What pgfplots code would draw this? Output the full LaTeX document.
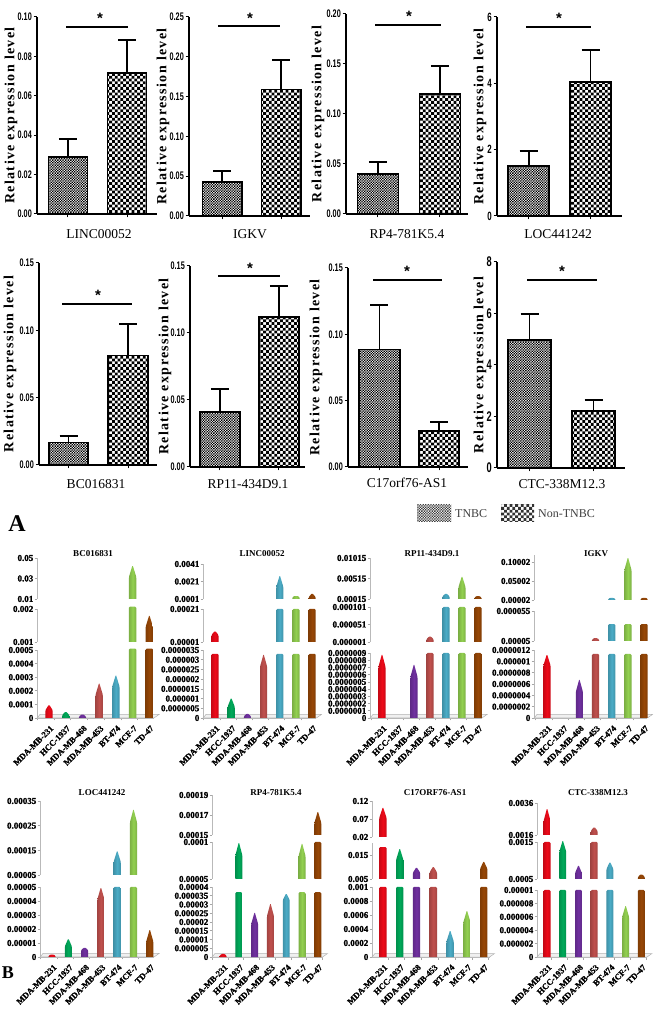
\documentclass[border=0pt]{standalone}
\usepackage{fontspec}
\setmainfont{Liberation Serif}
\newfontfamily\ticksf[FakeStretch=0.66]{Liberation Sans}
\newfontfamily\starf{Liberation Sans}
\newfontfamily\heavy[BoldFeatures={FakeBold=1.2}]{Liberation Serif}
\usepackage{pgfplots}
\pgfplotsset{compat=1.18}
\usetikzlibrary{patterns}

\definecolor{c0}{RGB}{237,10,25}
\definecolor{c1}{RGB}{0,170,90}
\definecolor{c2}{RGB}{112,48,160}
\definecolor{c3}{RGB}{192,80,77}
\definecolor{c4}{RGB}{75,172,198}
\definecolor{c5}{RGB}{146,208,80}
\definecolor{c6}{RGB}{151,71,6}

\pgfdeclarepatternformonly{tnbcfill}{\pgfqpoint{-0.05pt}{-0.05pt}}{\pgfqpoint{2.65pt}{2.65pt}}{\pgfqpoint{2.6pt}{2.6pt}}{
  \pgfpathrectangle{\pgfqpoint{0pt}{0pt}}{\pgfqpoint{1.3pt}{1.3pt}}
  \pgfpathrectangle{\pgfqpoint{1.3pt}{1.3pt}}{\pgfqpoint{1.3pt}{1.3pt}}
  \pgfusepath{fill}}
\pgfdeclarepatternformonly{nontnbcfill}{\pgfqpoint{-0.05pt}{-0.05pt}}{\pgfqpoint{5.65pt}{5.65pt}}{\pgfqpoint{5.6pt}{5.6pt}}{
  \pgfpathrectangle{\pgfqpoint{0pt}{0pt}}{\pgfqpoint{2.8pt}{2.8pt}}
  \pgfpathrectangle{\pgfqpoint{2.8pt}{2.8pt}}{\pgfqpoint{2.8pt}{2.8pt}}
  \pgfusepath{fill}}

\pgfplotsset{
  toppanel/.style={
    scale only axis, clip=false, ybar, bar shift=0pt,
    scaled y ticks=false,
    axis x line=bottom, axis y line=left,
    axis line style={-,line width=1.3pt},
    tick style={black,line width=1pt},
    tick align=outside, major tick length=3.5pt,
    xtick={0,1}, xticklabel=\empty, ymin=0,
    yticklabel style={font=\ticksf\bfseries\fontsize{11}{11}\selectfont,inner sep=1.5pt},
    ylabel={\addfontfeature{LetterSpace=10}Relative expression level},
    y label style={at={(axis description cs:0,0.5)},anchor=center,
      font=\bfseries\fontsize{14}{15}\selectfont},
  },
  ylx/.style={y label style={yshift=#1pt}},
  tn/.style={pattern=tnbcfill,draw=black,line width=1.7pt,
    error bars/y dir=plus,error bars/y explicit,
    error bars/error bar style={line width=1.7pt,black},
    error bars/error mark options={rotate=90,mark size=9pt,line width=1.7pt,black}},
  nt/.style={pattern=nontnbcfill,draw=black,line width=1.7pt,
    error bars/y dir=plus,error bars/y explicit,
    error bars/error bar style={line width=1.7pt,black},
    error bars/error mark options={rotate=90,mark size=9pt,line width=1.7pt,black}},
  seg/.style={
    scale only axis, clip=false, scaled y ticks=false,
    axis x line=bottom, axis y line=left,
    xtick=\empty, x axis line style={draw=none},
    y axis line style={-,gray!55,line width=0.8pt},
    ytick style={gray!70,line width=0.6pt},
    tick align=outside, major tick length=2.5pt,
    yticklabel style={font=\heavy\bfseries\fontsize{9}{9}\selectfont,inner sep=1pt},
  },
  low/.style={
    x axis line style={-,draw=gray!55,line width=0.8pt},
    xtick={-0.2,0.8,1.8,2.8,3.8,4.8,5.8},
    minor xtick={-0.7,0.3,1.3,2.3,3.3,4.3,5.3,6.3},
    major x tick style={draw=none},
    minor x tick style={gray!70,line width=0.6pt},
    minor tick length=2.5pt,
    xticklabels={MDA-MB-231,HCC-1937,MDA-MB-468,MDA-MB-453,BT-474,MCF-7,TD-47},
    x tick label style={rotate=45,anchor=north east,inner sep=1pt,yshift=-5pt,xshift=1pt,
      font=\heavy\bfseries\fontsize{8.5}{8.5}\selectfont},
  },
  bullet/.style={draw=none,mark=none,rounded corners=1.1pt,
    left color=c#1!85!black,right color=c#1!85!black,middle color=c#1},
}

% one bullet bar: index, bottom, shoulder, tip (values of that axis segment)
\newcommand{\hw}{0.22}
\newcommand{\bul}[4]{%
  \pgfmathsetmacro\xa{#1-\hw}\pgfmathsetmacro\xb{#1+\hw}%
  \edef\tmp{\noexpand\addplot[bullet=#1] coordinates {(\xa,#2)(\xa,#3)(#1,#4)(\xb,#3)(\xb,#2)};}\tmp}
% one segment of a broken axis: left px, bottom py, top py, options, bars
\newcommand{\brk}[5]{%
  \pgfmathsetmacro\hh{#2-#3}%
  \begin{axis}[seg,pnl,at={(#1pt,{1011pt-#2pt})},height=\hh pt,#4]
  #5
  \end{axis}}
\newcommand{\floor}{%
  \draw[gray!60,fill=gray!12,line width=0.5pt] (rel axis cs:0,0) -- (rel axis cs:1,0)
    -- ([shift={(5pt,3.5pt)}]rel axis cs:1,0) -- ([shift={(3pt,3.5pt)}]rel axis cs:0,0) -- cycle;}
\newcommand{\sigp}[5]{%
  \draw[line width=2pt,black] (#1,{1011-#3}) -- (#2,{1011-#3});
  \node[font=\starf\bfseries\fontsize{15}{15}\selectfont,inner sep=0pt] at (#4,{1011-#5-3}) {*};}
\newcommand{\lab}[3]{\node[font=\fontsize{13.5}{14}\selectfont,inner sep=0pt] at (#1,{1011-#2}) {#3};}
\newcommand{\ttl}[3]{\node[font=\bfseries\fontsize{9}{10}\selectfont,inner sep=0pt] at (#1,{1011-#2}) {#3};}

\begin{document}
\begin{tikzpicture}[x=1pt,y=1pt]
\path[use as bounding box] (0,0) rectangle (658,1011);

% ---- upper part, TNBC vs Non-TNBC ----
\begin{axis}[toppanel,at={(37pt,{1011pt-214pt})},width=120pt,height=197pt,xmin=-0.525,xmax=1.508,bar width=39pt,ymax=0.10,ylx=26,
  ytick={0,0.02,0.04,0.06,0.08,0.10},yticklabels={0.00,0.02,0.04,0.06,0.08,0.10}]
\addplot[tn] coordinates {(0,0.029) +- (0,0.0092)};
\addplot[nt] coordinates {(1,0.0714) +- (0,0.0168)};
\end{axis}
\begin{axis}[toppanel,at={(189pt,{1011pt-216pt})},width=121pt,height=199pt,xmin=-0.563,xmax=1.487,bar width=39.5pt,ymax=0.25,ylx=26,
  ytick={0,0.05,0.10,0.15,0.20,0.25},yticklabels={0.00,0.05,0.10,0.15,0.20,0.25}]
\addplot[tn] coordinates {(0,0.043) +- (0,0.0135)};
\addplot[nt] coordinates {(1,0.159) +- (0,0.037)};
\end{axis}
\begin{axis}[toppanel,at={(346pt,{1011pt-214pt})},width=122pt,height=200pt,xmin=-0.516,xmax=1.452,bar width=41pt,ymax=0.20,ylx=28,
  ytick={0,0.05,0.10,0.15,0.20},yticklabels={0.00,0.05,0.10,0.15,0.20}]
\addplot[tn] coordinates {(0,0.04) +- (0,0.012)};
\addplot[nt] coordinates {(1,0.12) +- (0,0.028)};
\end{axis}
\begin{axis}[toppanel,at={(497pt,{1011pt-216pt})},width=125pt,height=199pt,xmin=-0.512,xmax=1.508,bar width=41pt,ymax=6,ylx=17,
  ytick={0,2,4,6},yticklabels={0,2,4,6},yticklabel style={font=\ticksf\bfseries\fontsize{12}{12}\selectfont}]
\addplot[tn] coordinates {(0,1.5) +- (0,0.46)};
\addplot[nt] coordinates {(1,4.03) +- (0,0.97)};
\end{axis}
\begin{axis}[toppanel,at={(39pt,{1011pt-465pt})},width=118pt,height=202pt,xmin=-0.496,xmax=1.487,bar width=39.5pt,ymax=0.15,ylx=29,
  ytick={0,0.05,0.10,0.15},yticklabels={0.00,0.05,0.10,0.15}]
\addplot[tn] coordinates {(0,0.0168) +- (0,0.0047)};
\addplot[nt] coordinates {(1,0.0813) +- (0,0.0232)};
\end{axis}
\begin{axis}[toppanel,at={(190pt,{1011pt-467pt})},width=115pt,height=201pt,xmin=-0.508,xmax=1.441,bar width=40pt,ymax=0.15,ylx=25,
  ytick={0,0.05,0.10,0.15},yticklabels={0.00,0.05,0.10,0.15}]
\addplot[tn] coordinates {(0,0.041) +- (0,0.017)};
\addplot[nt] coordinates {(1,0.112) +- (0,0.023)};
\end{axis}
\begin{axis}[toppanel,at={(348pt,{1011pt-467pt})},width=120pt,height=199pt,xmin=-0.529,xmax=1.487,bar width=40.5pt,ymax=0.15,ylx=32,
  ytick={0,0.05,0.10,0.15},yticklabels={0.00,0.05,0.10,0.15}]
\addplot[tn] coordinates {(0,0.0885) +- (0,0.0335)};
\addplot[nt] coordinates {(1,0.027) +- (0,0.007)};
\end{axis}
\begin{axis}[toppanel,at={(497pt,{1011pt-468pt})},width=128pt,height=206pt,xmin=-0.508,xmax=1.492,bar width=43pt,ymax=8,ylx=17,
  ytick={0,2,4,6,8},yticklabels={0,2,4,6,8},yticklabel style={font=\ticksf\bfseries\fontsize{14}{14}\selectfont}]
\addplot[tn] coordinates {(0,4.98) +- (0,0.99)};
\addplot[nt] coordinates {(1,2.22) +- (0,0.43)};
\end{axis}

\sigp{66}{128}{27}{100}{15}\lab{99}{234}{LINC00052}
\sigp{218}{280}{26}{250}{15}\lab{250}{234}{IGKV}
\sigp{375}{441}{25}{409}{13}\lab{407}{234}{RP4-781K5.4}
\sigp{526}{591}{27}{559}{15}\lab{558}{234}{LOC441242}
\sigp{62}{132}{304}{98}{292}\lab{96}{484}{BC016831}
\sigp{218}{280}{276}{250}{265}\lab{248}{484}{RP11-434D9.1}
\sigp{373}{442}{280}{407}{268}\lab{407}{483}{C17orf76-AS1}
\sigp{527}{597}{280}{562}{268}\lab{562}{484}{CTC-338M12.3}

% legend and panel letters
\fill[pattern=tnbcfill,pattern color=black!75] (417,{1011-522}) rectangle (451,{1011-505});
\node[anchor=west,inner sep=0pt,text=black!75,font=\fontsize{12}{12}\selectfont] at (455,{1011-514}) {TNBC};
\fill[pattern=nontnbcfill,pattern color=black!80] (501,{1011-522}) rectangle (534,{1011-505});
\node[anchor=west,inner sep=0pt,text=black!75,font=\fontsize{12}{12}\selectfont] at (538,{1011-514}) {Non-TNBC};
\node[font=\bfseries\fontsize{24}{24}\selectfont,inner sep=0pt] at (17,{1011-524}) {A};
\node[font=\bfseries\fontsize{18}{18}\selectfont,inner sep=0pt] at (8,{1011-973}) {B};

% ---- BC016831 ----
\ttl{93}{554}{BC016831}
\pgfplotsset{pnl/.style={width=117pt,xmin=-0.72,xmax=6.28}}
\brk{37}{599}{558}{ymin=0.01,ymax=0.05,ytick={0.01,0.03,0.05},yticklabels={0.01,0.03,0.05}}
  {\bul{5}{0.01}{0.0315}{0.0432}}
\brk{37}{642}{609}{ymin=0.001,ymax=0.002,ytick={0.001,0.002},yticklabels={0.001,0.002}}
  {\bul{5}{0.001}{0.00207}{0.00207}\bul{6}{0.001}{0.00146}{0.00182}}
\brk{37}{718}{650}{low,ymin=0,ymax=0.0005,ytick={0,0.0001,0.0002,0.0003,0.0004,0.0005},yticklabels={0,0.0001,0.0002,0.0003,0.0004,0.0005}}
  {\floor
   \bul{0}{0}{0.000057}{0.0001}\bul{1}{0}{0.00002}{0.00005}\bul{2}{0}{0.00001}{0.00003}
   \bul{3}{0}{0.00017}{0.00026}\bul{4}{0}{0.00023}{0.00032}
   \bul{5}{0}{0.00051}{0.00051}\bul{6}{0}{0.00051}{0.00051}}

% ---- LINC00052 ----
\ttl{262}{554}{LINC00052}
\pgfplotsset{pnl/.style={width=113.4pt,xmin=-0.74,xmax=6.26}}
\brk{203}{599}{564}{ymin=0.0001,ymax=0.0041,ytick={0.0001,0.0021,0.0041},yticklabels={0.0001,0.0021,0.0041}}
  {\bul{4}{0.0001}{0.00147}{0.00284}\bul{5}{0.0001}{0.00035}{0.00048}\bul{6}{0.0001}{0.0003}{0.00078}}
\brk{203}{642}{609}{ymin=0.00001,ymax=0.00021,ytick={0.00001,0.00021},yticklabels={0.00001,0.00021}}
  {\bul{0}{0.00001}{0.000052}{0.0000785}\bul{4}{0.00001}{0.00021}{0.00021}\bul{5}{0.00001}{0.00021}{0.00021}\bul{6}{0.00001}{0.00021}{0.00021}}
\brk{203}{718}{650}{low,ymin=0,ymax=0.0000035,ytick={0,0.0000005,0.000001,0.0000015,0.000002,0.0000025,0.000003,0.0000035},yticklabels={0,0.0000005,0.000001,0.0000015,0.000002,0.0000025,0.000003,0.0000035}}
  {\floor
   \bul{0}{0}{0.0000033}{0.0000033}\bul{1}{0}{0.00000058}{0.00000105}\bul{2}{0}{0.0000001}{0.00000024}
   \bul{3}{0}{0.00000264}{0.0000033}\bul{4}{0}{0.0000033}{0.0000033}\bul{5}{0}{0.0000033}{0.0000033}\bul{6}{0}{0.0000033}{0.0000033}}

% ---- RP11-434D9.1 ----
\ttl{432}{554}{RP11-434D9.1}
\pgfplotsset{pnl/.style={width=112pt,xmin=-0.75,xmax=6.25}}
\brk{370}{599}{558}{ymin=0.00015,ymax=0.01015,ytick={0.00015,0.00515,0.01015},yticklabels={0.00015,0.00515,0.01015}}
  {\bul{4}{0.00015}{0.00085}{0.00154}\bul{5}{0.00015}{0.00308}{0.0058}\bul{6}{0.00015}{0.0006}{0.00095}}
\brk{370}{642}{607}{ymin=0.000001,ymax=0.000101,ytick={0.000001,0.000051,0.000101},yticklabels={0.000001,0.000051,0.000101}}
  {\bul{3}{0.000001}{0.00001}{0.000018}\bul{4}{0.000001}{0.000101}{0.000101}\bul{5}{0.000001}{0.000101}{0.000101}\bul{6}{0.000001}{0.000101}{0.000101}}
\brk{370}{718}{653}{low,ymin=0,ymax=0.0000009,ytick={0,0.0000001,0.0000002,0.0000003,0.0000004,0.0000005,0.0000006,0.0000007,0.0000008,0.0000009},yticklabels={0,0.0000001,0.0000002,0.0000003,0.0000004,0.0000005,0.0000006,0.0000007,0.0000008,0.0000009}}
  {\floor
   \bul{0}{0}{0.00000071}{0.00000089}\bul{2}{0}{0.00000057}{0.00000075}
   \bul{3}{0}{0.0000009}{0.0000009}\bul{4}{0}{0.0000009}{0.0000009}\bul{5}{0}{0.0000009}{0.0000009}\bul{6}{0}{0.0000009}{0.0000009}}

% ---- IGKV ----
\ttl{596}{554}{IGKV}
\pgfplotsset{pnl/.style={width=113.4pt,xmin=-0.8,xmax=6.2}}
\brk{534}{600}{555}{ymin=0.00002,ymax=0.1184,ytick={0.00002,0.05002,0.10002},yticklabels={0.00002,0.05002,0.10002}}
  {\bul{4}{0.00002}{0.004}{0.0061}\bul{5}{0.00002}{0.079}{0.113}\bul{6}{0.00002}{0.004}{0.0061}}
\brk{534}{641}{611}{ymin=0.000005,ymax=0.000055,ytick={0.000005,0.000055},yticklabels={0.00005,0.000055}}
  {\bul{3}{0.000005}{0.000008}{0.0000105}\bul{4}{0.000005}{0.0000333}{0.0000333}\bul{5}{0.000005}{0.0000333}{0.0000333}\bul{6}{0.000005}{0.0000333}{0.0000333}}
\brk{534}{718}{650}{low,ymin=0,ymax=0.0000012,ytick={0,0.0000002,0.0000004,0.0000006,0.0000008,0.000001,0.0000012},yticklabels={0,0.0000002,0.0000004,0.0000006,0.0000008,0.000001,0.0000012}}
  {\floor
   \bul{0}{0}{0.00000093}{0.00000113}\bul{2}{0}{0.00000046}{0.00000069}
   \bul{3}{0}{0.00000113}{0.00000113}\bul{4}{0}{0.00000113}{0.00000113}\bul{5}{0}{0.00000113}{0.00000113}\bul{6}{0}{0.00000113}{0.00000113}}

% ---- LOC441242 ----
\ttl{102}{793}{LOC441242}
\pgfplotsset{pnl/.style={width=114pt,xmin=-0.74,xmax=6.26}}
\brk{40}{875}{801}{ymin=0.00005,ymax=0.00035,ytick={0.00005,0.00015,0.00025,0.00035},yticklabels={0.00005,0.00015,0.00025,0.00035}}
  {\bul{4}{0.00005}{0.000103}{0.00015}\bul{5}{0.00005}{0.000263}{0.000318}}
\brk{40}{957}{887}{low,ymin=0,ymax=0.00005,ytick={0,0.00001,0.00002,0.00003,0.00004,0.00005},yticklabels={0,0.00001,0.00002,0.00003,0.00004,0.00005}}
  {\floor
   \bul{0}{0}{0.000001}{0.000002}\bul{1}{0}{0.0000074}{0.0000134}\bul{2}{0}{0.000005}{0.000007}
   \bul{3}{0}{0.000041}{0.00005}\bul{4}{0}{0.00005}{0.00005}\bul{5}{0}{0.00005}{0.00005}\bul{6}{0}{0.0000109}{0.00002}}

% ---- RP4-781K5.4 ----
\ttl{276}{793}{RP4-781K5.4}
\pgfplotsset{pnl/.style={width=110.6pt,xmin=-0.7,xmax=6.3}}
\brk{212}{835}{795}{ymin=0.00015,ymax=0.00019,ytick={0.00015,0.00017,0.00019},yticklabels={0.00015,0.00017,0.00019}}
  {\bul{6}{0.00015}{0.000162}{0.000174}}
\brk{212}{879}{842}{ymin=0.00005,ymax=0.0001,ytick={0.00005,0.0001},yticklabels={0.00005,0.0001}}
  {\bul{1}{0.00005}{0.000082}{0.0001}\bul{5}{0.00005}{0.000081}{0.000099}\bul{6}{0.00005}{0.0001}{0.0001}}
\brk{212}{957}{887}{low,ymin=0,ymax=0.00004,ytick={0,0.000005,0.00001,0.000015,0.00002,0.000025,0.00003,0.000035,0.00004},yticklabels={0,0.000005,0.00001,0.000015,0.00002,0.000025,0.00003,0.000035,0.00004}}
  {\floor
   \bul{0}{0}{0.000001}{0.000002}\bul{1}{0}{0.000037}{0.000037}\bul{2}{0}{0.0000188}{0.0000258}
   \bul{3}{0}{0.0000234}{0.0000308}\bul{4}{0}{0.0000325}{0.0000365}\bul{5}{0}{0.000037}{0.000037}\bul{6}{0}{0.000037}{0.000037}}

% ---- C17ORF76-AS1 ----
\ttl{435}{793}{C17ORF76-AS1}
\pgfplotsset{pnl/.style={width=117.6pt,xmin=-0.65,xmax=6.35}}
\brk{372}{837}{801}{ymin=0.02,ymax=0.12,ytick={0.02,0.07,0.12},yticklabels={0.02,0.07,0.12}}
  {\bul{0}{0.02}{0.0728}{0.104}}
\brk{372}{879}{843}{ymin=0.005,ymax=0.02,ytick={0.005,0.015},yticklabels={0.005,0.015}}
  {\bul{0}{0.005}{0.0183}{0.0183}\bul{1}{0.005}{0.0129}{0.0179}\bul{2}{0.005}{0.0076}{0.01}\bul{3}{0.005}{0.0078}{0.0103}\bul{6}{0.005}{0.0092}{0.0125}}
\brk{372}{957}{887}{low,ymin=0,ymax=0.001,ytick={0,0.0002,0.0004,0.0006,0.0008,0.001},yticklabels={0,0.0002,0.0004,0.0006,0.0008,0.001}}
  {\floor
   \bul{0}{0}{0.001}{0.001}\bul{1}{0}{0.001}{0.001}\bul{2}{0}{0.001}{0.001}\bul{3}{0}{0.001}{0.001}
   \bul{4}{0}{0.000219}{0.000386}\bul{5}{0}{0.00049}{0.00067}\bul{6}{0}{0.001}{0.001}}

% ---- CTC-338M12.3 ----
\ttl{598}{793}{CTC-338M12.3}
\pgfplotsset{pnl/.style={width=110pt,xmin=-0.64,xmax=6.36}}
\brk{537}{835}{803}{ymin=0.0016,ymax=0.0036,ytick={0.0016,0.0036},yticklabels={0.0016,0.0036}}
  {\bul{0}{0.0016}{0.00248}{0.00329}\bul{3}{0.0016}{0.00185}{0.00212}}
\brk{537}{879}{842}{ymin=0.0005,ymax=0.0015,ytick={0.0005,0.0015},yticklabels={0.0005,0.0015}}
  {\bul{0}{0.0005}{0.0015}{0.0015}\bul{1}{0.0005}{0.00124}{0.00155}\bul{2}{0.0005}{0.00066}{0.00088}
   \bul{3}{0.0005}{0.0015}{0.0015}\bul{4}{0.0005}{0.00077}{0.00097}\bul{6}{0.0005}{0.00056}{0.00064}}
\brk{537}{957}{890}{low,ymin=0,ymax=0.00001,ytick={0,0.000002,0.000004,0.000006,0.000008,0.00001},yticklabels={0,0.000002,0.000004,0.000006,0.000008,0.00001}}
  {\floor
   \bul{0}{0}{0.00001}{0.00001}\bul{1}{0}{0.00001}{0.00001}\bul{2}{0}{0.00001}{0.00001}\bul{3}{0}{0.00001}{0.00001}
   \bul{4}{0}{0.00001}{0.00001}\bul{5}{0}{0.00000596}{0.00000775}\bul{6}{0}{0.00001}{0.00001}}

\end{tikzpicture}
\end{document}
